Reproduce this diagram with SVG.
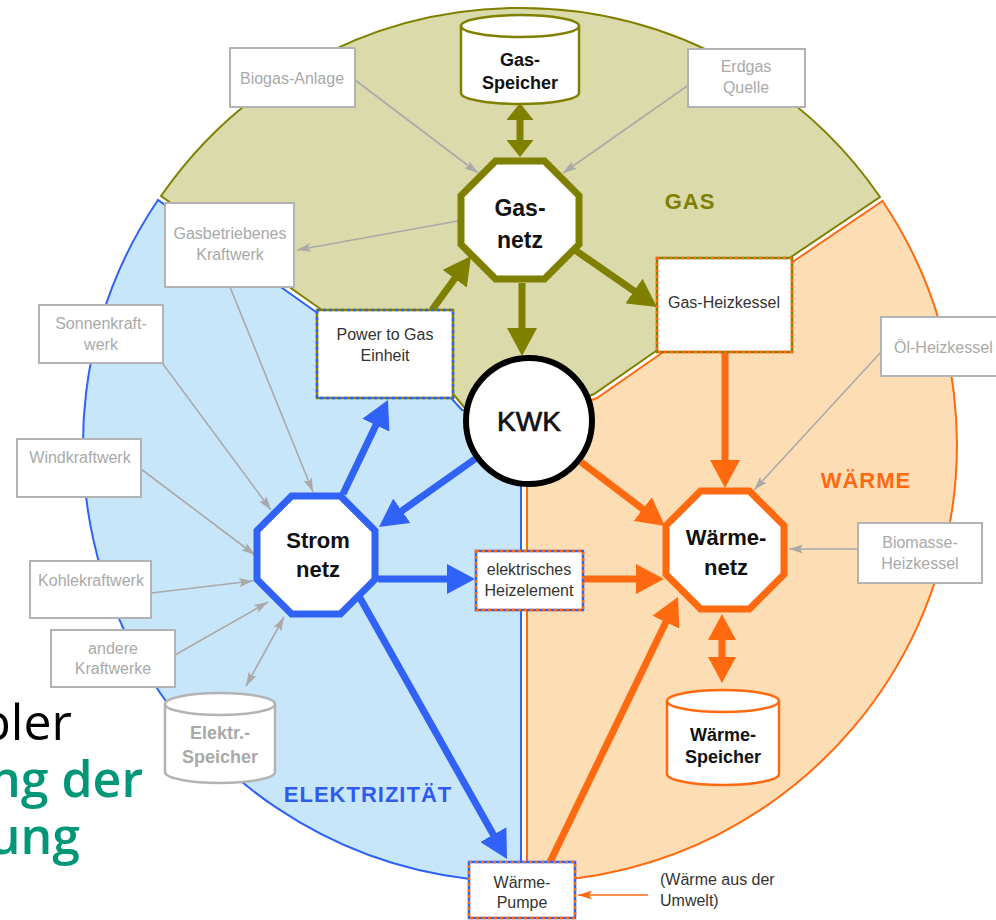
<svg xmlns="http://www.w3.org/2000/svg" width="996" height="920" viewBox="0 0 996 920">
<style>
text{font-family:"Liberation Sans",Arial,sans-serif}
.gbox{fill:#fff;stroke:#b3b3b3;stroke-width:2}
.gt{font-size:16px;fill:#a9a9a9;text-anchor:middle}
.dt{font-size:16px;fill:#333;text-anchor:middle}
.bt{font-weight:bold;fill:#111;text-anchor:middle}
.ga{stroke:#a9a9a9;stroke-width:1.6;fill:none;marker-end:url(#mg)}
.ol{stroke:#808000;stroke-width:7;fill:none;marker-end:url(#mo)}
.bl{stroke:#2f62f5;stroke-width:7;fill:none;marker-end:url(#mb)}
.or{stroke:#ff6a10;stroke-width:7;fill:none;marker-end:url(#mr)}
.lbl{font-weight:bold;font-size:22px;letter-spacing:1px;text-anchor:middle}
.st{font-family:"Open Sans","Noto Sans",sans-serif;font-size:50px;text-anchor:end}
</style>
<defs>
<marker id="mo" markerUnits="userSpaceOnUse" viewBox="0 0 28 30" markerWidth="28" markerHeight="30" refX="10" refY="15" orient="auto"><path d="M0,0 L28,15 L0,30 z" fill="#808000"/></marker>
<marker id="mb" markerUnits="userSpaceOnUse" viewBox="0 0 28 30" markerWidth="28" markerHeight="30" refX="10" refY="15" orient="auto"><path d="M0,0 L28,15 L0,30 z" fill="#2f62f5"/></marker>
<marker id="mr" markerUnits="userSpaceOnUse" viewBox="0 0 28 30" markerWidth="28" markerHeight="30" refX="10" refY="15" orient="auto"><path d="M0,0 L28,15 L0,30 z" fill="#ff6a10"/></marker>
<marker id="mod" markerUnits="userSpaceOnUse" viewBox="0 0 17 27" markerWidth="17" markerHeight="27" refX="7" refY="13.5" orient="auto-start-reverse"><path d="M0,0 L17,13.5 L0,27 z" fill="#808000"/></marker>
<marker id="mrd" markerUnits="userSpaceOnUse" viewBox="0 0 26 28" markerWidth="26" markerHeight="28" refX="10" refY="14" orient="auto-start-reverse"><path d="M0,0 L26,14 L0,28 z" fill="#ff6a10"/></marker>
<marker id="mg" markerUnits="userSpaceOnUse" viewBox="0 0 14 9" markerWidth="14" markerHeight="9" refX="14" refY="4.5" orient="auto-start-reverse"><path d="M0,0 L14,4.5 L0,9 L3,4.5 z" fill="#a9a9a9"/></marker>
<marker id="mgo" markerUnits="userSpaceOnUse" viewBox="0 0 14 9" markerWidth="14" markerHeight="9" refX="14" refY="4.5" orient="auto"><path d="M0,0 L14,4.5 L0,9 L3,4.5 z" fill="#ff6a10"/></marker>
</defs>

<g id="sectors">
<path id="sector-gas" d="M161,196 A437,437 0 0 1 880,197 L791,257 L656,351 L594,394 L529,420 L464,407 L454,395 L319,308 Z" fill="#dadaaa" stroke="#808000" stroke-width="2"/>
<path id="sector-elec" d="M158,200 A437,437 0 0 0 470,879 L521,881 L521,480 L527,421 L462,410 L452,399 L316,312 Z" fill="#c8e6fa" stroke="#2f62f5" stroke-width="2"/>
<path id="sector-heat" d="M882.5,201 L794,261 L659,355 L597,398 L532,422 L527,480 L527,880 L575,878.5 A437,437 0 0 0 882.5,201 Z" fill="#fddeb4" stroke="#ff6a10" stroke-width="2"/>
<text class="lbl" x="690" y="209" fill="#7f7f00">GAS</text>
<text class="lbl" x="866" y="488" fill="#ff6a10">WÄRME</text>
<text class="lbl" x="368" y="802" fill="#2f5cf0">ELEKTRIZITÄT</text>
</g>

<g id="connectors">
<line class="ga" x1="355" y1="80" x2="478" y2="173"/>
<line class="ga" x1="690" y1="84" x2="563" y2="173"/>
<line class="ga" x1="458" y1="221" x2="297" y2="250"/>
<line class="ga" x1="230" y1="287" x2="313" y2="492"/>
<line class="ga" x1="163" y1="364" x2="271" y2="510"/>
<line class="ga" x1="141" y1="469" x2="255" y2="555"/>
<line class="ga" x1="151" y1="593" x2="253" y2="581"/>
<line class="ga" x1="175" y1="655" x2="268" y2="602"/>
<line class="ga" x1="246" y1="686" x2="284" y2="617" style="marker-start:url(#mg)"/>
<line class="ga" x1="881" y1="352" x2="754" y2="490"/>
<line class="ga" x1="858" y1="549" x2="789" y2="549"/>
<line x1="648" y1="895" x2="578" y2="895" stroke="#ff6a10" stroke-width="1.6" marker-end="url(#mgo)"/>

<line x1="520" y1="113" x2="520" y2="147" stroke="#808000" stroke-width="7" marker-start="url(#mod)" marker-end="url(#mod)"/>
<line class="ol" x1="522" y1="283" x2="522" y2="338"/>
<line class="ol" x1="575" y1="250" x2="642.2" y2="296.7"/>
<line class="ol" x1="432" y1="310" x2="460.5" y2="270.6"/>

<line class="bl" x1="343" y1="494" x2="380.2" y2="416.2"/>
<line class="bl" x1="475" y1="459" x2="393.7" y2="516.6"/>
<line class="bl" x1="378" y1="579" x2="457" y2="579"/>
<line class="bl" x1="360" y1="598" x2="498.2" y2="843.3"/>

<line class="or" x1="725" y1="353" x2="725" y2="470"/>
<line class="or" x1="581" y1="462" x2="650.7" y2="515.1"/>
<line class="or" x1="584" y1="579" x2="646" y2="579"/>
<line class="or" x1="550" y1="862" x2="670.2" y2="613.2"/>
<line x1="722" y1="630" x2="722" y2="667" stroke="#ff6a10" stroke-width="7" marker-start="url(#mrd)" marker-end="url(#mrd)"/>
</g>

<g id="gas-speicher">
<path d="M461,26 L461,93 A59,11 0 0 0 579,93 L579,26" fill="#fff" stroke="#808000" stroke-width="2.5"/>
<ellipse cx="520" cy="26" rx="59" ry="11" fill="#fff" stroke="#808000" stroke-width="2.5"/>
<text class="bt" x="520" y="66" font-size="18">Gas-</text>
<text class="bt" x="520" y="89" font-size="18">Speicher</text>
</g>

<g id="gasnetz">
<polygon points="495.6,161 544.4,161 579,195.6 579,244.4 544.4,279 495.6,279 461,244.4 461,195.6" fill="#fff" stroke="#808000" stroke-width="7"/>
<text class="bt" x="520" y="216" font-size="23">Gas-</text>
<text class="bt" x="520" y="248" font-size="23">netz</text>
</g>

<g id="biogas"><rect class="gbox" x="230" y="48" width="125" height="59"/><text class="gt" x="292" y="84">Biogas-Anlage</text></g>
<g id="erdgas"><rect class="gbox" x="688" y="49" width="117" height="58"/><text class="gt" x="746" y="72">Erdgas</text><text class="gt" x="746" y="93">Quelle</text></g>
<g id="gaskraftwerk"><rect class="gbox" x="165" y="203" width="129" height="84"/><text class="gt" x="230" y="239">Gasbetriebenes</text><text class="gt" x="230" y="260">Kraftwerk</text></g>
<g id="sonnen"><rect class="gbox" x="39" y="305" width="124" height="58"/><text class="gt" x="101" y="329">Sonnenkraft-</text><text class="gt" x="101" y="350">werk</text></g>
<g id="wind"><rect class="gbox" x="17" y="439" width="124" height="58"/><text class="gt" x="80" y="463">Windkraftwerk</text></g>
<g id="kohle"><rect class="gbox" x="30" y="561" width="121" height="57"/><text class="gt" x="91" y="586">Kohlekraftwerk</text></g>
<g id="andere"><rect class="gbox" x="51" y="630" width="124" height="57"/><text class="gt" x="113" y="654">andere</text><text class="gt" x="113" y="674">Kraftwerke</text></g>
<g id="oel"><rect class="gbox" x="881" y="317" width="130" height="59"/><text class="gt" x="894" y="353" style="text-anchor:start">Öl-Heizkessel</text></g>
<g id="biomasse"><rect class="gbox" x="858" y="523" width="124" height="60"/><text class="gt" x="920" y="548">Biomasse-</text><text class="gt" x="920" y="569">Heizkessel</text></g>

<g id="elektr-speicher">
<path d="M165,704 L165,772 A55,11 0 0 0 275,772 L275,704" fill="#fff" stroke="#b3b3b3" stroke-width="2.5"/>
<ellipse cx="220" cy="704" rx="55" ry="11" fill="#fff" stroke="#b3b3b3" stroke-width="2.5"/>
<text class="bt" x="220" y="739" font-size="18" style="fill:#a9a9a9">Elektr.-</text>
<text class="bt" x="220" y="763" font-size="18" style="fill:#a9a9a9">Speicher</text>
</g>

<g id="power-to-gas">
<rect x="317" y="310" width="136" height="88" fill="#fff" stroke="#808000" stroke-width="2.5"/>
<rect x="317" y="310" width="136" height="88" fill="none" stroke="#2f62f5" stroke-width="2.5" stroke-dasharray="3,3"/>
<text class="dt" x="385" y="340">Power to Gas</text><text class="dt" x="385" y="361">Einheit</text>
</g>

<g id="gas-heizkessel">
<rect x="657" y="258" width="135" height="94" fill="#fff" stroke="#808000" stroke-width="2.5"/>
<rect x="657" y="258" width="135" height="94" fill="none" stroke="#ff6a10" stroke-width="2.5" stroke-dasharray="3,3"/>
<text class="dt" x="724" y="308">Gas-Heizkessel</text>
</g>

<g id="kwk">
<circle cx="529" cy="421" r="63" fill="#fff" stroke="#000" stroke-width="6"/>
<text x="529" y="431" font-size="28" text-anchor="middle" fill="#111" stroke="#111" stroke-width="0.7">KWK</text>
</g>

<g id="stromnetz">
<polygon points="291.6,496 340.4,496 375,530.6 375,579.4 340.4,614 291.6,614 257,579.4 257,530.6" fill="#fff" stroke="#2f62f5" stroke-width="7"/>
<text class="bt" x="318" y="548" font-size="22">Strom</text>
<text class="bt" x="318" y="577" font-size="22">netz</text>
</g>

<g id="heizelement">
<rect x="476" y="551" width="107" height="59" fill="#fff" stroke="#2f62f5" stroke-width="2.5"/>
<rect x="476" y="551" width="107" height="59" fill="none" stroke="#ff6a10" stroke-width="2.5" stroke-dasharray="3,3"/>
<text class="dt" x="529" y="575">elektrisches</text><text class="dt" x="529" y="596">Heizelement</text>
</g>

<g id="waermenetz">
<polygon points="700.6,491 749.4,491 784,525.6 784,574.4 749.4,609 700.6,609 666,574.4 666,525.6" fill="#fff" stroke="#ff6a10" stroke-width="7"/>
<text class="bt" x="726" y="545" font-size="22">Wärme-</text>
<text class="bt" x="726" y="575" font-size="22">netz</text>
</g>

<g id="waerme-speicher">
<path d="M667,701 L667,774 A56,11 0 0 0 779,774 L779,701" fill="#fff" stroke="#ff6a10" stroke-width="2.5"/>
<ellipse cx="723" cy="701" rx="56" ry="11" fill="#fff" stroke="#ff6a10" stroke-width="2.5"/>
<text class="bt" x="723" y="741" font-size="18">Wärme-</text>
<text class="bt" x="723" y="763" font-size="18">Speicher</text>
</g>

<g id="waermepumpe">
<rect x="469" y="862" width="106" height="56" fill="#fff" stroke="#2f62f5" stroke-width="2.5"/>
<rect x="469" y="862" width="106" height="56" fill="none" stroke="#ff6a10" stroke-width="2.5" stroke-dasharray="3,3"/>
<text class="dt" x="522" y="888">Wärme-</text><text class="dt" x="522" y="908">Pumpe</text>
</g>

<g id="umwelt">
<text x="660" y="885" font-size="16" fill="#333">(Wärme aus der</text>
<text x="660" y="906" font-size="16" fill="#333">Umwelt)</text>
</g>

<g id="slide-text">
<text class="st" x="72" y="740" fill="#000">bler</text>
<text class="st" x="143" y="797" font-weight="600" fill="#009678">ng der</text>
<text class="st" x="80" y="854" font-weight="600" fill="#009678">ung</text>
</g>
</svg>
